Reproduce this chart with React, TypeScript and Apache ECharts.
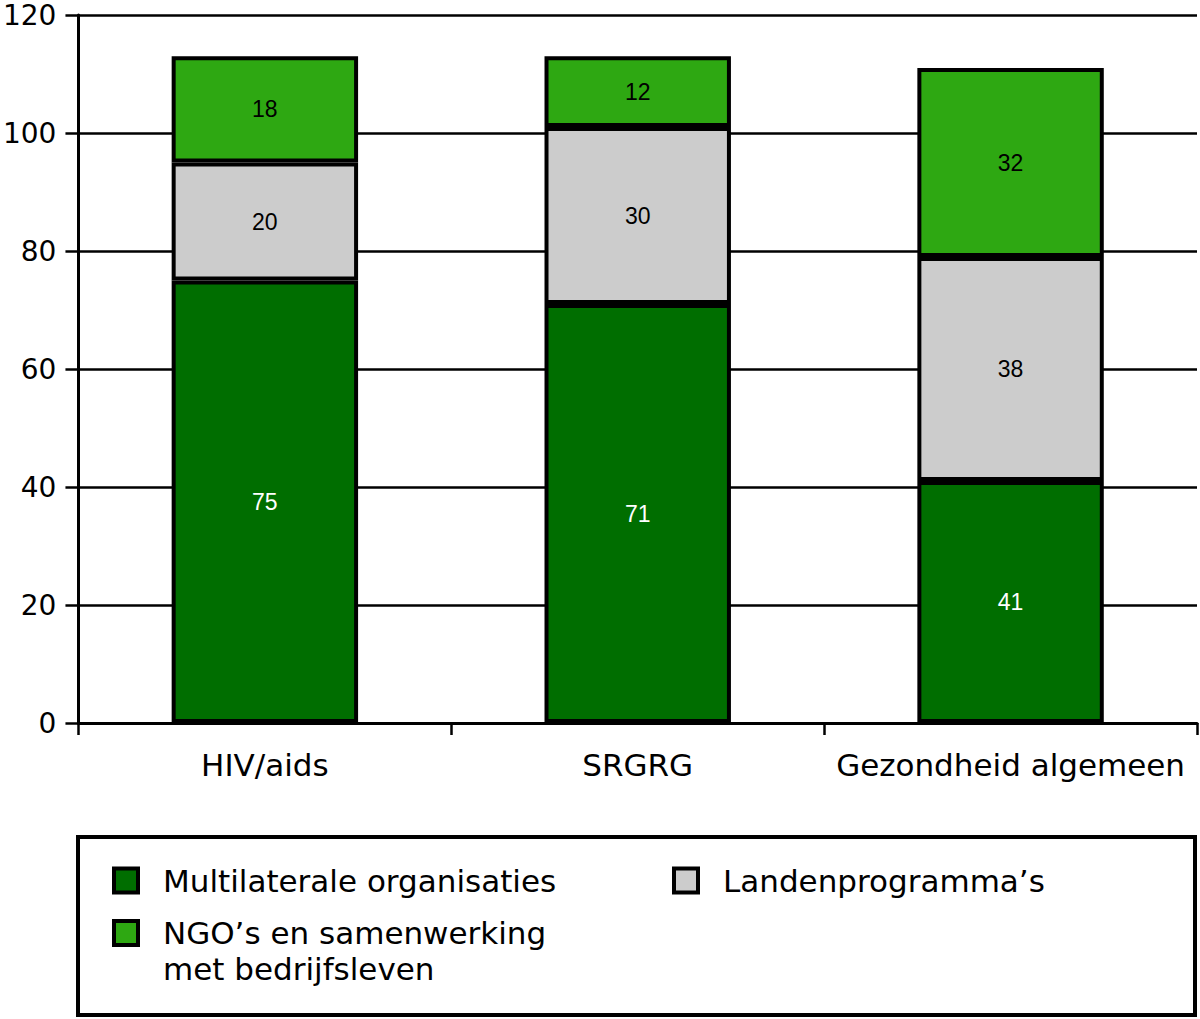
import React, { useEffect, useRef } from "react";
import * as echarts from "echarts";

const categories = ["HIV/aids", "SRGRG", "Gezondheid algemeen"];
const multilateraal = [75, 71, 41];
const landen = [20, 30, 38];
const ngo = [18, 12, 32];
const seriesNames = [
  "Multilaterale organisaties",
  "Landenprogramma’s",
  "NGO’s en samenwerking met bedrijfsleven",
];
const yTicks = { min: 0, max: 120, interval: 20 };

const COLORS = ["#006e00", "#cccccc", "#2ea812"];
const SANS = "Liberation Sans";
const WIDE = "DejaVu Sans";

export default function App() {
  const ref = useRef<HTMLDivElement>(null);
  useEffect(() => {
    if (!ref.current) return;
    const chart = echarts.init(ref.current, undefined, { renderer: "svg" });
    const mkSeries = (name: string, data: number[], color: string, labelColor: string) => ({
      name,
      type: "bar",
      stack: "total",
      barWidth: "50%",
      data,
      itemStyle: { color, borderColor: "#000", borderWidth: 4 },
      label: {
        show: true,
        position: "inside",
        color: labelColor,
        fontFamily: SANS,
        fontSize: 23,
      },
    });
    const legendBase = {
      orient: "horizontal",
      padding: 0,
      itemWidth: 24,
      itemHeight: 24,
      selectedMode: false,
      icon: "rect",
      itemStyle: { borderColor: "#000", borderWidth: 4 },
    };
    chart.setOption({
      animation: false,
      backgroundColor: "#fff",
      grid: { left: 77, right: 3, top: 14, bottom: 296, containLabel: false },
      xAxis: {
        type: "category",
        data: categories,
        axisLine: { show: true, lineStyle: { color: "#000", width: 3 } },
        axisTick: { show: true, length: 12, lineStyle: { color: "#000", width: 2.5 } },
        axisLabel: {
          interval: 0,
          color: "#000",
          fontFamily: WIDE,
          fontSize: 31,
          lineHeight: 31,
          margin: 26,
        },
      },
      yAxis: {
        type: "value",
        min: yTicks.min,
        max: yTicks.max,
        interval: yTicks.interval,
        axisLine: { show: true, lineStyle: { color: "#000", width: 3 } },
        axisTick: { show: true, length: 13, lineStyle: { color: "#000", width: 2.5 } },
        axisLabel: {
          color: "#000",
          fontFamily: WIDE,
          fontSize: 28,
          lineHeight: 24,
          padding: [6, 0, 0, 0],
          margin: 22,
        },
        splitLine: { show: true, lineStyle: { color: "#000", width: 2.5 } },
      },
      legend: [
        {
          ...legendBase,
          left: 112,
          top: 865,
          data: [seriesNames[0]],
          textStyle: { color: "#000", fontFamily: WIDE, fontSize: 31, padding: [0, 0, 0, 20] },
        },
        {
          ...legendBase,
          left: 672,
          top: 865,
          data: [seriesNames[1]],
          textStyle: { color: "#000", fontFamily: WIDE, fontSize: 31, padding: [0, 0, 0, 20] },
        },
        {
          ...legendBase,
          left: 112,
          top: 879,
          data: [seriesNames[2]],
          formatter: () => " \nNGO’s en samenwerking\nmet bedrijfsleven",
          textStyle: {
            color: "#000",
            fontFamily: WIDE,
            fontSize: 31,
            lineHeight: 36,
            padding: [0, 0, 0, 20],
          },
        },
      ],
      graphic: [
        {
          type: "rect",
          shape: { x: 78, y: 837, width: 1117, height: 178 },
          style: { fill: "none", stroke: "#000", lineWidth: 4 },
          silent: true,
        },
      ],
      series: [
        mkSeries(seriesNames[0], multilateraal, COLORS[0], "#fff"),
        mkSeries(seriesNames[1], landen, COLORS[1], "#000"),
        mkSeries(seriesNames[2], ngo, COLORS[2], "#000"),
      ],
    });
    return () => chart.dispose();
  }, []);
  return (
    <div
      ref={ref}
      style={{ position: "absolute", left: 0, top: 0, width: 1200, height: 1019 }}
    />
  );
}
